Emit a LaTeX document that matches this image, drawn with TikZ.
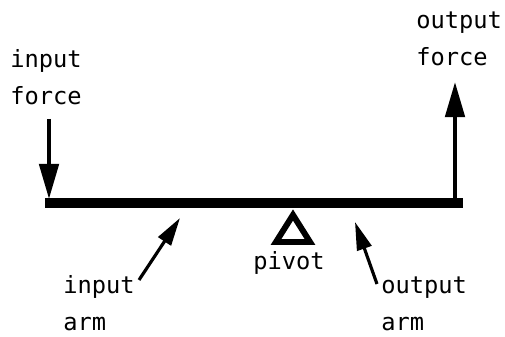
\documentclass[tikz,border=0pt]{standalone}
\usepackage{fontspec}
\setmonofont{DejaVu Sans Mono}
\usepackage{tikz}
\usetikzlibrary{arrows.meta}

\begin{document}
\begin{tikzpicture}[x=0.02cm, y=-0.02cm,
  lbl/.style={font=\ttfamily\fontsize{13.5}{21}\selectfont, align=left,
              anchor=north west, inner sep=0pt},
  force/.style={-{Triangle[length=20pt, width=11pt]}, line width=2.3pt},
  armarr/.style={-{Triangle[length=16pt, width=8.5pt]}, line width=1.8pt},
  beam/.style={line width=5.4pt}]
  \useasboundingbox (0,0) rectangle (505,337);

  % lever and pivot
  \coordinate (beamL) at (45,203);
  \coordinate (beamR) at (463,203);
  \draw[beam] (beamL) -- (beamR);
  \draw[line width=3.4pt, line join=miter] (293,215) coordinate (pivtop)
    -- (276,242) -- (310,242) -- cycle;
  \node[lbl, anchor=north] (piv) at (289,251) {pivot};

  % forces
  \node[lbl] (inforce) at (10,49) {input\\force};
  \node[lbl] (outforce) at (416,12) {output\\force};
  \coordinate (inpush) at (49,199);
  \coordinate (intail) at (49,119);
  \coordinate (outbase) at (455,199);
  \coordinate (outtip) at (455,82);
  \draw[force] (intail) -- (inpush);
  \draw[force] (outbase) -- (outtip);

  % arms
  \node[lbl] (inarm) at (63,275) {input\\arm};
  \node[lbl] (outarm) at (381,277) {output\\arm};
  \coordinate (inarmtail) at (139,280);
  \coordinate (inarmtip) at (180,218);
  \coordinate (outarmtail) at (377,284);
  \coordinate (outarmtip) at (355,222);
  \draw[armarr] (inarmtail) -- (inarmtip);
  \draw[armarr] (outarmtail) -- (outarmtip);
\end{tikzpicture}
\end{document}
